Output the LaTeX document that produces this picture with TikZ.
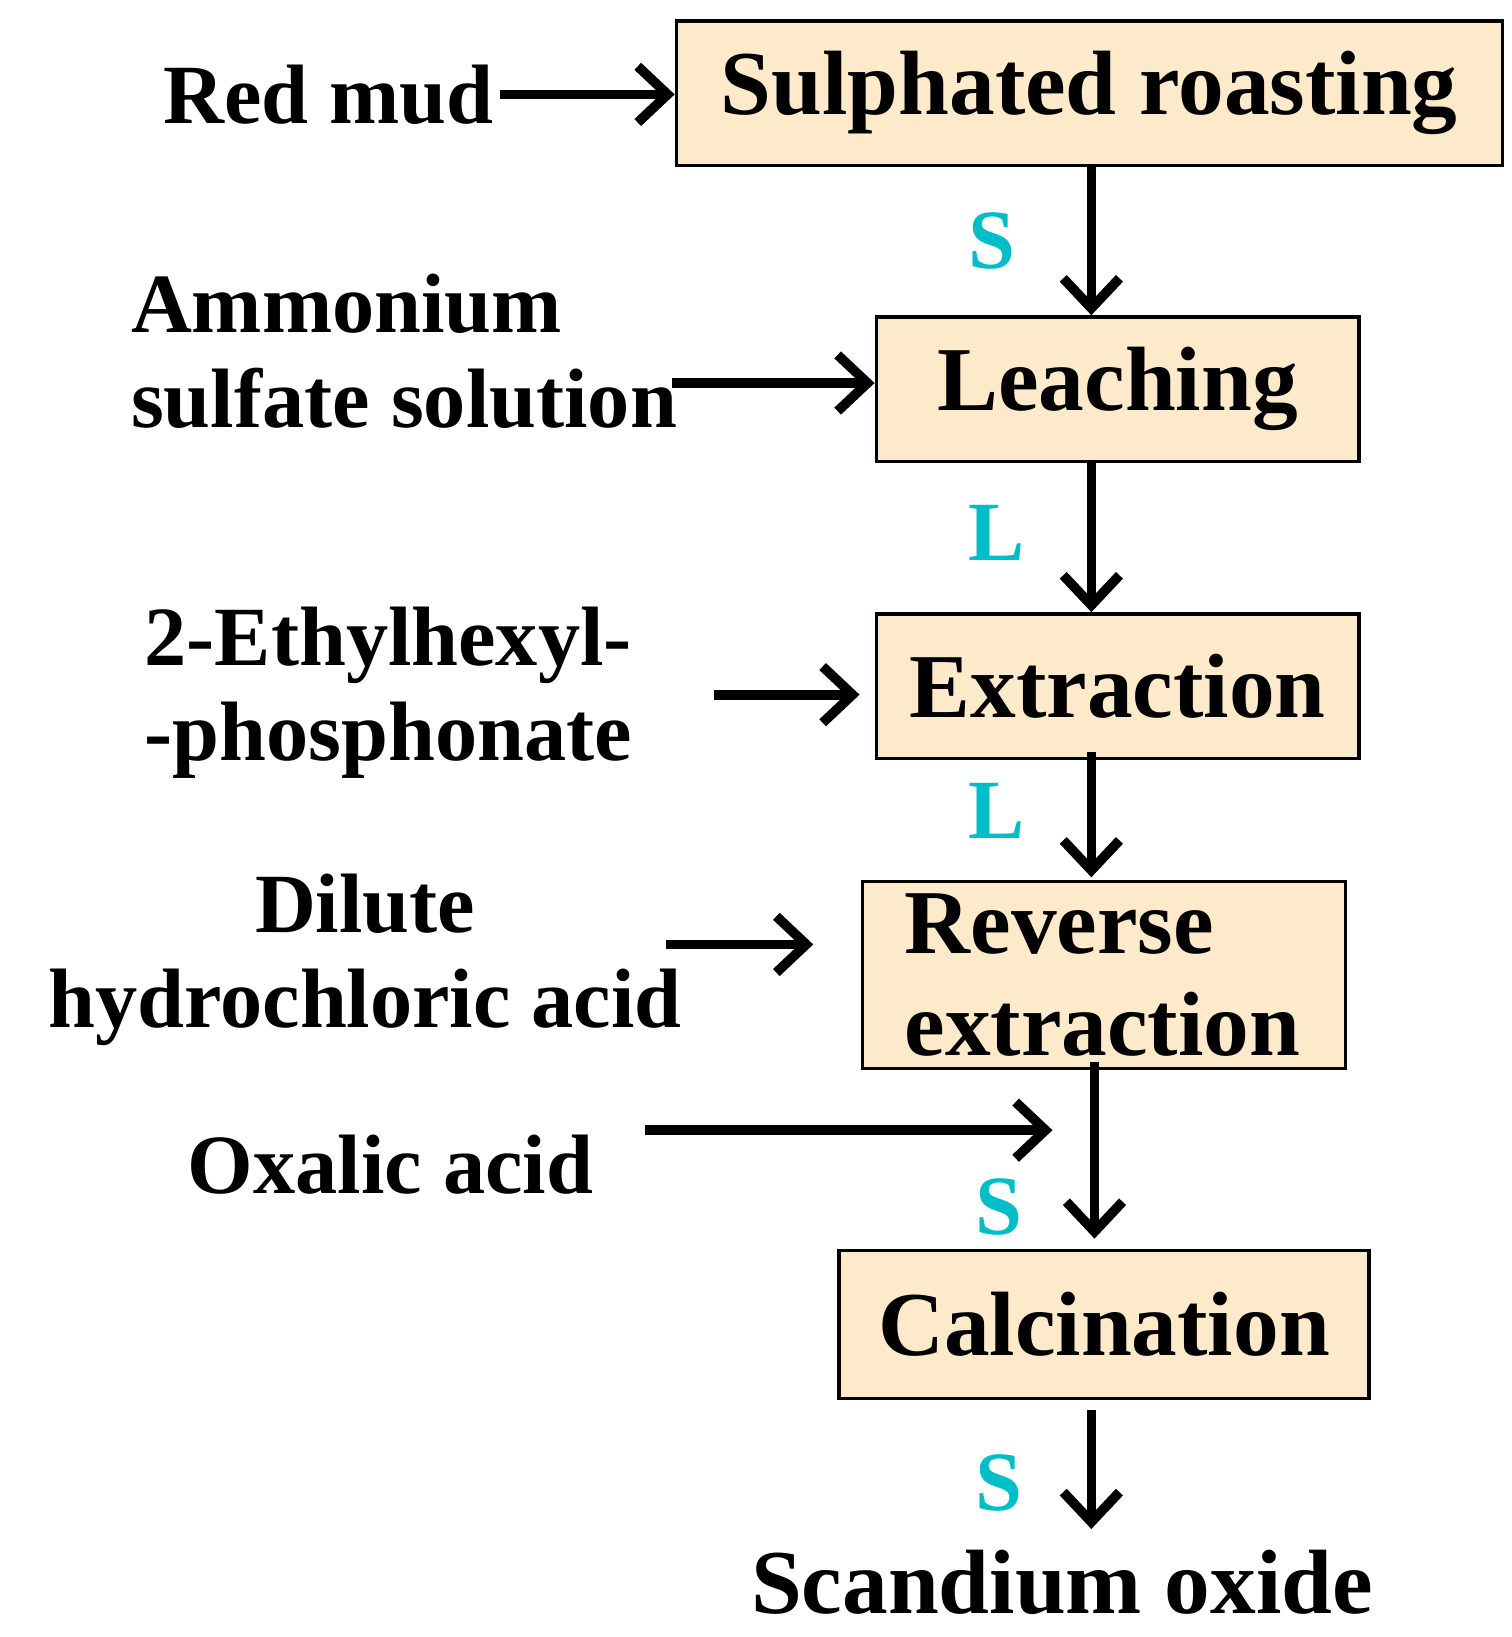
\documentclass[tikz,border=0pt]{standalone}
\usepackage{fontspec}
\setmainfont{Liberation Serif}
\usetikzlibrary{arrows.meta}
\definecolor{boxfill}{RGB}{253,234,202}
\definecolor{flowcyan}{RGB}{0,190,200}
\begin{document}
\begin{tikzpicture} [x=0.021cm, y=-0.021cm, stage/.style={rectangle, draw, line width=1.9pt, fill=boxfill, align=left, inner sep=0pt, font=\fontsize{52}{58}\selectfont\bfseries}, feed/.style={font=\fontsize{48}{54}\selectfont\bfseries, align=center}, phase/.style={font=\fontsize{48}{50}\selectfont\bfseries, text=flowcyan}, flow/.style={line width=5.5pt, -{Straight Barb[length=17pt, width=32pt, line width=5.5pt]}}]
	\useasboundingbox (0,0) rectangle (1440,1560);
	% process steps
	\node [stage, minimum width=787*0.021cm, minimum height=138*0.021cm] (roast) at (1038,89) {Sulphated roasting};
	\node [stage, minimum width=460*0.021cm, minimum height=138*0.021cm] (leach) at (1065,371) {Leaching};
	\node [stage, minimum width=460*0.021cm, minimum height=138*0.021cm] (extract) at (1065,654) {Extraction};
	\node [stage, minimum width=460*0.021cm, minimum height=178*0.021cm, text width=380*0.021cm] (reverse) at (1052,929) {Reverse\\extraction};
	\node [stage, minimum width=505*0.021cm, minimum height=141*0.021cm] (calcine) at (1052,1262) {Calcination};
	\node [feed, font=\fontsize{52}{54}\selectfont\bfseries] (product) at (1012,1508) {Scandium oxide};
	% feeds
	\node [feed] (redmud) at (313,90) {Red mud};
	\node [feed, align=left] (ammonium) at (385,335) {Ammonium\\sulfate solution};
	\node [feed, align=left] (ehp) at (370,660) {2-Ethylhexyl-\\-phosphonate};
	\node [feed] (hcl) at (348,915) {Dilute\\hydrochloric acid};
	\node [feed] (oxalic) at (372,1110) {Oxalic acid};
	\coordinate (ammoniumin) at (640,365);
	\coordinate (ehpin) at (680,662);
	\coordinate (hclin) at (635,900);
	\coordinate (hclout) at (775,900);
	\coordinate (oxalicin) at (615,1077);
	\coordinate (oxalicout) at (1003,1077);
	\coordinate (axis) at (1040,0);
	\coordinate (axisb) at (1043,0);
	% phase labels
	\node [phase] (s1) at (945,230) {S};
	\node [phase] (l1) at (950,508) {L};
	\node [phase] (l2) at (950,773) {L};
	\node [phase] (s2) at (952,1150) {S};
	\node [phase] (s3) at (952,1413) {S};
	% draw edges
	\draw [flow] (roast.south -| axis) -- (leach.north -| axis);
	\draw [flow] (leach.south -| axis) -- (extract.north -| axis);
	\draw [flow] ([yshift=0.16cm]extract.south -| axis) -- ([yshift=0.05cm]reverse.north -| axis);
	\draw [flow] ([yshift=0.16cm]reverse.south -| axisb) -- ([yshift=0.2cm]calcine.north -| axisb);
	\draw [flow] ([yshift=-0.2cm]calcine.south -| axis) -- ([yshift=0.3cm]product.north -| axis);
	\draw [flow] (redmud.east) -- (redmud.east -| roast.west);
	\draw [flow] (ammoniumin) -- (ammoniumin -| leach.west);
	\draw [flow] (ehpin) -- ([xshift=-0.3cm]ehpin -| extract.west);
	\draw [flow] (hclin) -- (hclout);
	\draw [flow] (oxalicin) -- (oxalicout);
\end{tikzpicture}
\end{document}
